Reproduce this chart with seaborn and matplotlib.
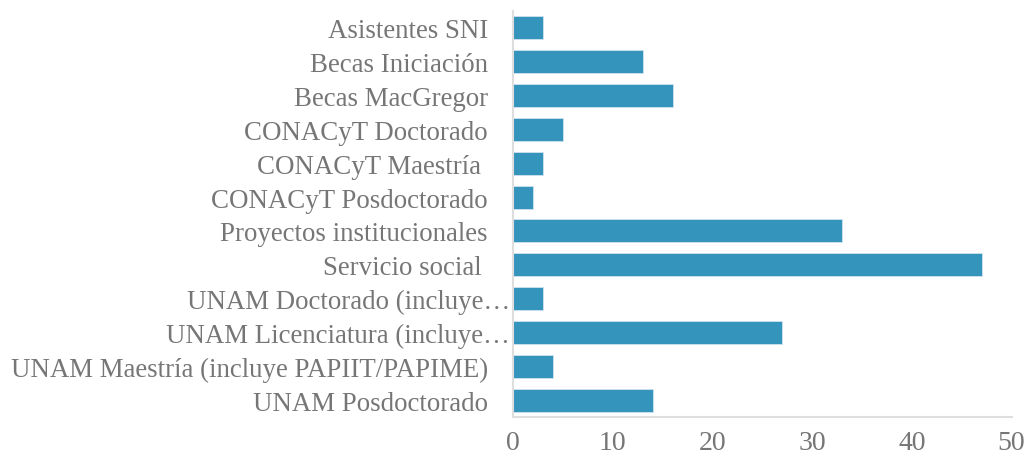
import pandas as pd
import matplotlib.pyplot as plt
import matplotlib.transforms as mtransforms
import seaborn as sns

# Data
categorias = [
    'Asistentes SNI',
    'Becas Iniciación',
    'Becas MacGregor',
    'CONACyT Doctorado',
    'CONACyT Maestría ',
    'CONACyT Posdoctorado',
    'Proyectos institucionales',
    'Servicio social ',
    'UNAM Doctorado (incluye…',
    'UNAM Licenciatura (incluye…',
    'UNAM Maestría (incluye PAPIIT/PAPIME)',
    'UNAM Posdoctorado',
]
valores = [3, 13, 16, 5, 3, 2, 33, 47, 3, 27, 4, 14]
ticks_x = [0, 10, 20, 30, 40, 50]

df = pd.DataFrame({'categoria': categorias, 'valor': valores})

sns.set_theme(style="white")
plt.rcParams['font.family'] = ['Liberation Serif', 'DejaVu Serif']

fig = plt.figure(figsize=(10.28, 4.6), dpi=100)
ax = fig.add_axes([0.499, 0.091, 0.485, 0.883])

sns.barplot(data=df, x='valor', y='categoria', color='#3594BC', saturation=1,
            width=0.68, edgecolor='#cfe3ee', linewidth=0.6, ax=ax)

ax.set_xlim(0, 50)
ax.set_xticks(ticks_x)
ax.set_xlabel('')
ax.set_ylabel('')

for side in ['top', 'right']:
    ax.spines[side].set_visible(False)
for side in ['left', 'bottom']:
    ax.spines[side].set_color('#dedede')
    ax.spines[side].set_linewidth(1.5)

ax.tick_params(axis='y', length=0, pad=18, labelsize=19.4, labelcolor='#767676')
ax.tick_params(axis='x', length=0, pad=9, labelsize=20, labelcolor='#767676')

# truncated labels run right up to the axis line, like in the original
shift = mtransforms.ScaledTranslation(22 / 100, 0, fig.dpi_scale_trans)
for lbl in ax.get_yticklabels():
    if lbl.get_text().endswith('…'):
        lbl.set_transform(lbl.get_transform() + shift)

plt.savefig('out.png', dpi=100)
plt.close()
